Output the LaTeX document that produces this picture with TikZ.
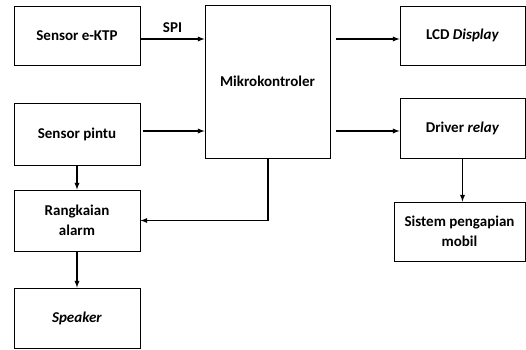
\documentclass[tikz,border=0pt]{standalone}
\usepackage{fontspec}
\setmainfont{Carlito}
\usetikzlibrary{arrows,calc}
\tikzset{blok/.style={draw,line width=0.9pt,inner sep=0pt,align=center,font=\fontsize{15}{20.5}\selectfont\bfseries},
  panah/.style={-latex,line width=1.3pt}}

\begin{document}
\begin{tikzpicture}[x=1pt,y=-1pt]
\useasboundingbox (0,0) rectangle (526,349);
\node[blok,minimum width=126,minimum height=59] (ektp) at (77,35.5){Sensor e-KTP};
\node[blok,minimum width=126,minimum height=62] (pintu) at (77,134){Sensor pintu};
\node[blok,minimum width=126,minimum height=61] (alarm) at (77,220.5){Rangkaian\\alarm};
\node[blok,minimum width=126,minimum height=60] (speaker) at (77,318){\textit{Speaker}};
\node[blok,minimum width=125,minimum height=153] (mikro) at (267.5,81.5){Mikrokontroler};
\node[blok,minimum width=125,minimum height=59] (lcd) at (462.5,35.5){LCD \textit{Display}};
\node[blok,minimum width=125,minimum height=60] (driver) at (462.5,128){Driver \textit{relay}};
\node[blok,minimum width=131,minimum height=59] (sistem) at (459.5,231.5){Sistem pengapian\\mobil};

\draw[panah] ([yshift=-3.5]ektp.east) -- ([yshift=-3.5]ektp.east -| mikro.west)
  node[midway,above=2pt,font=\fontsize{15}{16}\selectfont\bfseries]{SPI};
\draw[panah] ([xshift=3]pintu.east |- 0,131) -- (mikro.west |- 0,131);
\draw[panah] ([xshift=6]mikro.east |- 0,39) -- (lcd.west |- 0,39);
\draw[panah] ([xshift=6]mikro.east |- 0,131) -- (driver.west |- 0,131);
\draw[panah] (driver.south) -- (sistem.north -| driver.south);
\draw[panah] (pintu.south) -- (alarm.north);
\draw[panah] (alarm.south) -- (speaker.north);
\draw[panah] ([xshift=0.5]mikro.south) |- (alarm.east);

\end{tikzpicture}
\end{document}
